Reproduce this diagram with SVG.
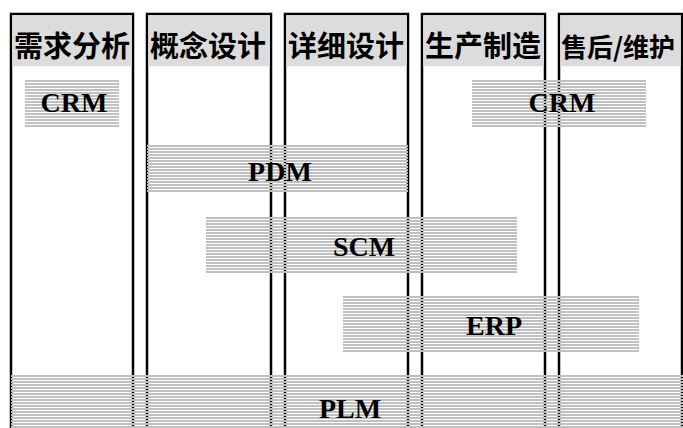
<svg xmlns="http://www.w3.org/2000/svg" width="683" height="428" viewBox="0 0 683 428">
<defs>
<pattern id="stripes" patternUnits="userSpaceOnUse" x="0" y="0" width="8" height="3">
<rect x="0" y="0" width="8" height="2" fill="#c0c0c0"/>
</pattern>
<style>
.col{fill:#fff;stroke:#000;stroke-width:2.5}
.hdr{fill:#dcdcdc}
.htxt{font-family:"Noto Sans CJK SC","Noto Sans CJK JP",sans-serif;font-weight:bold;font-size:29px;fill:#000}
.bar{fill:url(#stripes)}
.btxt{font-family:"Liberation Serif","Times New Roman",serif;font-weight:bold;font-size:28px;fill:#000;text-anchor:middle}
</style>
</defs>
<rect width="683" height="428" fill="#fff"/>
<g id="col-1">
<rect class="col" x="11" y="14" width="122" height="420"/>
<rect class="hdr" x="12.25" y="15.25" width="119.5" height="51"/>
<text class="htxt" x="14" y="57">需求分析</text>
</g>
<g id="col-2">
<rect class="col" x="147" y="14" width="124" height="420"/>
<rect class="hdr" x="148.25" y="15.25" width="121.5" height="51"/>
<text class="htxt" x="150" y="57">概念设计</text>
</g>
<g id="col-3">
<rect class="col" x="285" y="14" width="123" height="420"/>
<rect class="hdr" x="286.25" y="15.25" width="120.5" height="51"/>
<text class="htxt" x="288" y="57">详细设计</text>
</g>
<g id="col-4">
<rect class="col" x="422" y="14" width="123" height="420"/>
<rect class="hdr" x="423.25" y="15.25" width="120.5" height="51"/>
<text class="htxt" x="425" y="57">生产制造</text>
</g>
<g id="col-5">
<rect class="col" x="559" y="14" width="123" height="420"/>
<rect class="hdr" x="560.25" y="15.25" width="120.5" height="51"/>
<text class="htxt" x="561" y="57" style="font-size:26px">售后/维护</text>
</g>
<g id="connectors"/>
<g id="crm-1">
<rect class="bar" transform="translate(25,80)" width="94" height="47"/>
<text class="btxt" x="74" y="112">CRM</text>
</g>
<g id="crm-2">
<rect class="bar" transform="translate(472,80)" width="174" height="47"/>
<text class="btxt" x="562" y="112">CRM</text>
</g>
<g id="pdm">
<rect class="bar" transform="translate(147,145)" width="261" height="47"/>
<text class="btxt" x="280" y="181">PDM</text>
</g>
<g id="scm">
<rect class="bar" transform="translate(206,217)" width="311" height="56"/>
<text class="btxt" x="364" y="256">SCM</text>
</g>
<g id="erp">
<rect class="bar" transform="translate(343,296)" width="296" height="56"/>
<text class="btxt" x="494" y="335">ERP</text>
</g>
<g id="plm">
<rect class="bar" transform="translate(11,375)" width="672" height="56"/>
<text class="btxt" x="350" y="418">PLM</text>
</g>
</svg>
